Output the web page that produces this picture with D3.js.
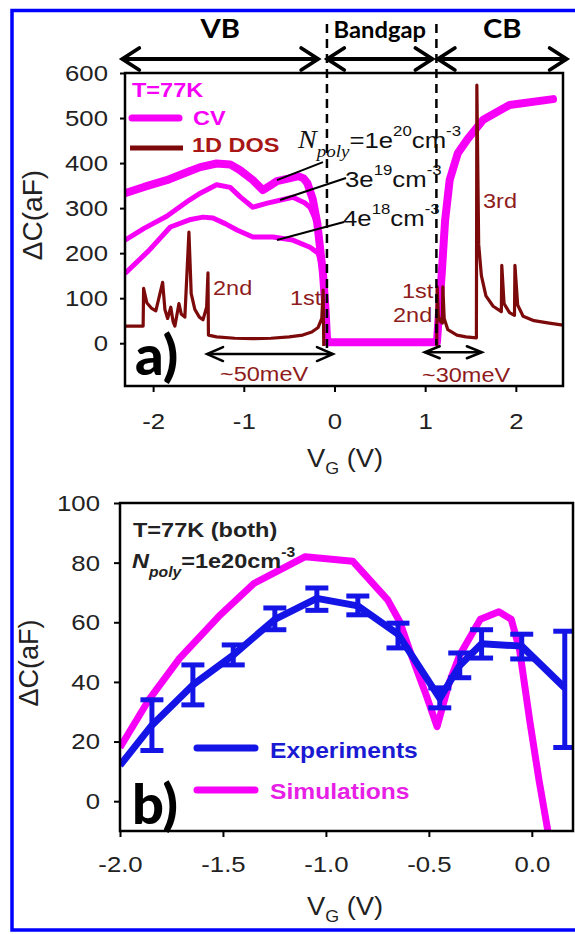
<!DOCTYPE html>
<html><head><meta charset="utf-8">
<script src="https://cdn.jsdelivr.net/npm/d3@7"></script>
<style>body{margin:0;background:#fff;} svg{display:block;}</style>
</head><body>
<svg id="c" width="575" height="934"></svg>
<script>
// ---------------- Panel (a) data ----------------
const cvHighV = [-2.31,-2.1,-1.85,-1.6,-1.48,-1.3,-1.15,-1.04,-0.9,-0.79,-0.71,-0.634,-0.5,-0.40,-0.34,-0.30,-0.24,-0.19,-0.127,-0.10,-0.083,-0.07,0.3,0.7,1.13,1.16,1.185,1.22,1.27,1.36,1.46,1.64,1.93,2.41];
const cvHighC = [333,347,362,382,391,399,397,384,362,340,350,360,366,371,366,356,320,267,155,80,13,2,2,2,2,89,162,273,362,422,451,496,529,542];
const cvMidV = [-2.31,-2.1,-1.85,-1.6,-1.48,-1.30,-1.15,-1.04,-0.90,-0.74,-0.46,-0.33,-0.27,-0.20,-0.16,-0.127,-0.10,-0.083,-0.07];
const cvMidC = [229,255,282,318,333,352,346,325,302,311,324,312,302,270,229,155,80,13,2];
const cvLowV = [-2.31,-2.05,-1.81,-1.6,-1.45,-1.34,-1.2,-1.07,-0.90,-0.68,-0.46,-0.27,-0.18,-0.14,-0.115,-0.095,-0.083,-0.07];
const cvLowC = [155,205,258,274,280,278,265,251,236,236,229,213,200,170,118,60,13,2];
const dosVbV = [-2.31,-2.11,-2.105,-2.07,-2.02,-1.97,-1.895,-1.87,-1.84,-1.805,-1.78,-1.76,-1.715,-1.69,-1.65,-1.605,-1.58,-1.54,-1.49,-1.45,-1.41,-1.395,-1.39,-1.3,-1.1,-0.9,-0.7,-0.5,-0.35,-0.25,-0.18,-0.14,-0.125,-0.118];
const dosVbC = [38,38,122,90,78,72,135,75,55,80,48,38,88,65,58,247,110,75,58,52,80,156,18,14,11,10,11,14,18,25,35,55,118,-6];
const dosCbV = [1.12,1.128,1.132,1.145,1.17,1.19,1.195,1.21,1.25,1.35,1.45,1.565,1.57,1.59,1.62,1.67,1.75,1.84,1.845,1.87,1.93,1.985,1.99,2.02,2.08,2.2,2.35,2.52];
const dosCbC = [-6,-6,125,60,48,45,125,55,30,18,14,12,573,220,150,105,82,70,173,88,68,62,173,85,60,50,45,40];
const xTicksA = [-2,-1,0,1,2];
const yTicksA = [0,100,200,300,400,500,600];
const bandEdges = [-0.083, 1.124];
const regionNames = ['VB','Bandgap','CB'];
const regionSpans = [[-2.34,-0.18],[-0.08,1.08],[1.14,2.56]];
const polyMant = ['1e','3e','4e'];
const polyExp = ['20','19','18'];

// ---------------- Panel (b) data ----------------
const expV  = [-2.0,-1.845,-1.646,-1.45,-1.248,-1.044,-0.845,-0.65,-0.447,-0.35,-0.244,-0.049,0.16];
const expC  = [12,25.5,39,49,61,68,65.5,56,34.5,45.5,52.8,52,38];
const expHi = [null,34,45.7,52.4,64.8,71.5,68.8,59.7,38,49.7,57.5,56,57];
const expLo = [null,17,32.3,45.7,57.5,64,62.5,51.4,31.3,41.4,48,47.7,18];
const simV = [-2.0,-1.86,-1.71,-1.52,-1.35,-1.1,-0.87,-0.70,-0.64,-0.58,-0.51,-0.46,-0.40,-0.35,-0.25,-0.16,-0.10,-0.06,-0.01,0.035,0.078];
const simC = [18,34,48,62,73,82,80.5,67.5,60,48,35,25,40,49,61,63.5,61,51,27,7,-10];
const xTicksB = [-2.0,-1.5,-1.0,-0.5,0.0];
const yTicksB = [0,20,40,60,80,100];

// ---------------- styles ----------------
const SANS = "'Liberation Sans', Arial, sans-serif";
const SERIF = "'Liberation Serif', 'Times New Roman', serif";
const CAL = "Lato, 'Open Sans', sans-serif";
const SX = 1.12;
const MAG = '#f700f7', DRED = '#7d0a0a', TRED = '#8e1c1c', BLUE = '#1414e6';

const svg = d3.select('#c');
const zip = (a,b) => a.map((v,i)=>[v,b[i]]);

function txt(g, x, y, s, o={}) {
  return g.append('text').attr('transform', `translate(${x},${y}) scale(${o.sx||SX},1)`)
    .attr('font-family', o.family||SANS).attr('font-size', o.size||21)
    .attr('font-weight', o.weight||'normal').attr('font-style', o.style||'normal')
    .attr('fill', o.fill||'#000').attr('text-anchor', o.anchor||'start').text(s);
}
function dArrow(g, x1, x2, y, h, w, sw) {
  const a = g.append('g').attr('stroke','#000').attr('stroke-width',sw).attr('fill','none')
    .attr('stroke-linecap','round').attr('stroke-linejoin','miter');
  a.append('line').attr('x1',x1+1).attr('x2',x2-1).attr('y1',y).attr('y2',y);
  a.append('path').attr('d',`M${x1+h},${y-w}L${x1},${y}L${x1+h},${y+w}`);
  a.append('path').attr('d',`M${x2-h},${y-w}L${x2},${y}L${x2-h},${y+w}`);
}

// blue border
svg.append('rect').attr('x',12).attr('y',10.5).attr('width',580).attr('height',919.5)
  .attr('fill','none').attr('stroke','#0000ff').attr('stroke-width',3.5);

// ================= Panel (a) =================
const xa = d3.scaleLinear().domain([-2.31,2.52]).range([125,563]);
const ya = d3.scaleLinear().domain([-95,600]).range([386,73]);
const gA = svg.append('g');
svg.append('clipPath').attr('id','clipA').append('rect')
  .attr('x',125).attr('y',73).attr('width',438).attr('height',313);

const lineA = d3.line().x(d=>xa(d[0])).y(d=>ya(d[1]));
const plotA = gA.append('g').attr('clip-path','url(#clipA)');
plotA.append('path').attr('d', lineA(zip(cvLowV,cvLowC))).attr('fill','none')
  .attr('stroke',MAG).attr('stroke-width',5).attr('stroke-linejoin','round');
plotA.append('path').attr('d', lineA(zip(cvMidV,cvMidC))).attr('fill','none')
  .attr('stroke',MAG).attr('stroke-width',5).attr('stroke-linejoin','round');
plotA.append('path').attr('d', lineA(zip(cvHighV,cvHighC))).attr('fill','none')
  .attr('stroke',MAG).attr('stroke-width',8).attr('stroke-linejoin','round').attr('stroke-linecap','round');
plotA.append('path').attr('d', lineA(zip(dosVbV,dosVbC))).attr('fill','none')
  .attr('stroke',DRED).attr('stroke-width',3.2).attr('stroke-linejoin','round');
plotA.append('path').attr('d', lineA(zip(dosCbV,dosCbC))).attr('fill','none')
  .attr('stroke',DRED).attr('stroke-width',3.2).attr('stroke-linejoin','round');

// frame
gA.append('rect').attr('x',125).attr('y',73).attr('width',438).attr('height',313)
  .attr('fill','none').attr('stroke','#000').attr('stroke-width',2.5);

// dashed band edges
bandEdges.forEach((v,i)=>{
  gA.append('line').attr('x1',xa(v)).attr('x2',xa(v)).attr('y1',ya(709)).attr('y2',ya(i===0?-27:-4))
    .attr('stroke','#000').attr('stroke-width',2.5).attr('stroke-dasharray','9,6');
});

// region arrows and labels
regionSpans.forEach((s,i)=>{
  dArrow(gA, xa(s[0]), xa(s[1]), 59, 17, 11, 3.8);
  txt(gA, (xa(s[0])+xa(s[1]))/2, 38, regionNames[i], {family:CAL, weight:700, size: i===1?22:27, anchor:'middle', sx:1.08});
});

// axes
const gxA = gA.append('g').attr('transform','translate(0,386)')
  .call(d3.axisBottom(xa).tickValues(xTicksA).tickSize(6).tickPadding(21).tickFormat(d=>String(d)));
gxA.select('.domain').remove();
gxA.selectAll('line').attr('stroke','#000').attr('stroke-width',2);
gxA.selectAll('text').attr('font-size',23).attr('font-family',SANS).attr('fill','#222').attr('transform',`scale(${SX},1)`);
const gyA = gA.append('g').attr('transform','translate(125,0)')
  .call(d3.axisLeft(ya).tickValues(yTicksA).tickSize(5).tickPadding(12).tickFormat(d=>String(d)));
gyA.select('.domain').remove();
gyA.selectAll('line').attr('stroke','#000').attr('stroke-width',2);
gyA.selectAll('text').attr('font-size',23).attr('font-family',SANS).attr('fill','#222')
  .attr('x',-17/SX).attr('transform',`scale(${SX},1)`);

// axis titles (a)
gA.append('text').attr('transform','translate(42,215) rotate(-90)').attr('text-anchor','middle')
  .attr('font-family',SANS).attr('font-size',28).attr('fill','#222').text('ΔC(aF)');
const vgA = txt(gA, 345, 467, '', {size:26, anchor:'middle', fill:'#222', sx:1.05});
vgA.append('tspan').text('V');
vgA.append('tspan').attr('font-size',17).attr('dy',7).text('G');
vgA.append('tspan').attr('dy',-7).text(' (V)');

// legend (a)
txt(gA, 132, 97, 'T=77K', {weight:'bold', size:21, fill:MAG});
gA.append('line').attr('x1',132).attr('x2',179).attr('y1',118).attr('y2',118)
  .attr('stroke',MAG).attr('stroke-width',7).attr('stroke-linecap','round');
txt(gA, 193, 125, 'CV', {weight:'bold', size:21, fill:MAG});
gA.append('line').attr('x1',130).attr('x2',183).attr('y1',148).attr('y2',148)
  .attr('stroke',DRED).attr('stroke-width',5);
txt(gA, 192, 152, '1D DOS', {weight:'bold', size:21, fill:'#a81616'});

// N_poly labels with leader lines
const leaders = [[[-0.634,362],[-0.127,402]],[[-0.60,318],[0.127,367]],[[-0.634,229],[0.105,269]]];
leaders.forEach(l=>{
  gA.append('line').attr('x1',xa(l[0][0])).attr('y1',ya(l[0][1])).attr('x2',xa(l[1][0])).attr('y2',ya(l[1][1]))
    .attr('stroke','#000').attr('stroke-width',2);
});
const np = txt(gA, 298, 148, '', {size:23, fill:'#111'});
np.append('tspan').attr('font-family',SERIF).attr('font-style','italic').attr('font-size',25).text('N');
np.append('tspan').attr('font-family',SERIF).attr('font-style','italic').attr('font-size',17).attr('dy',9).text('poly');
np.append('tspan').attr('dy',-9).text('=' + polyMant[0]);
np.append('tspan').attr('font-size',15).attr('dy',-12).text(polyExp[0]);
np.append('tspan').attr('dy',12).text('cm');
np.append('tspan').attr('font-size',15).attr('dy',-12).text('-3');
[[345,187],[343,226]].forEach((p,k)=>{
  const t = txt(gA, p[0], p[1], '', {size:23, fill:'#111'});
  t.append('tspan').text(polyMant[k+1]);
  t.append('tspan').attr('font-size',15).attr('dy',-12).text(polyExp[k+1]);
  t.append('tspan').attr('dy',12).text('cm');
  t.append('tspan').attr('font-size',15).attr('dy',-12).text('-3');
});

// subband labels
txt(gA, 213, 295, '2nd', {fill:TRED});
txt(gA, 290, 305, '1st', {fill:TRED});
txt(gA, 402, 298, '1st', {fill:TRED});
txt(gA, 393, 322, '2nd', {fill:TRED});
txt(gA, 483, 208, '3rd', {fill:TRED});
// meV arrows
dArrow(gA, xa(-1.405), xa(-0.017), ya(-24), 16, 7, 2.5);
txt(gA, 220, 381, '~50meV', {fill:TRED});
dArrow(gA, xa(0.995), xa(1.625), ya(-20), 15, 6, 2.5);
txt(gA, 422, 382, '~30meV', {fill:TRED});
gA.append('text').attr('x',135).attr('y',375).attr('font-family',CAL).attr('font-weight',900)
  .attr('font-size',56).attr('fill','#000').text('a)');

// ================= Panel (b) =================
const xb = d3.scaleLinear().domain([-2.0,0.2]).range([120,573]);
const yb = d3.scaleLinear().domain([-10,100]).range([831,503]);
const gB = svg.append('g');
svg.append('clipPath').attr('id','clipB').append('rect')
  .attr('x',120).attr('y',503).attr('width',453).attr('height',328);
const lineB = d3.line().x(d=>xb(d[0])).y(d=>yb(d[1]));
const plotB = gB.append('g').attr('clip-path','url(#clipB)');
plotB.append('path').attr('d', lineB(zip(simV,simC))).attr('fill','none')
  .attr('stroke',MAG).attr('stroke-width',7).attr('stroke-linejoin','round');
plotB.append('path').attr('d', lineB(zip(expV,expC))).attr('fill','none')
  .attr('stroke',BLUE).attr('stroke-width',7).attr('stroke-linejoin','round');
const eb = plotB.append('g').attr('stroke',BLUE).attr('stroke-width',5);
expV.forEach((v,i)=>{
  if (expHi[i]==null) return;
  const x = xb(v);
  eb.append('line').attr('x1',x).attr('x2',x).attr('y1',yb(expHi[i])).attr('y2',yb(expLo[i]));
  eb.append('line').attr('x1',x-11.5).attr('x2',x+11.5).attr('y1',yb(expHi[i])).attr('y2',yb(expHi[i]));
  eb.append('line').attr('x1',x-11.5).attr('x2',x+11.5).attr('y1',yb(expLo[i])).attr('y2',yb(expLo[i]));
});
gB.append('rect').attr('x',120).attr('y',503).attr('width',453).attr('height',328)
  .attr('fill','none').attr('stroke','#000').attr('stroke-width',2.5);

const gxB = gB.append('g').attr('transform','translate(0,831)')
  .call(d3.axisBottom(xb).tickValues(xTicksB).tickSize(6).tickPadding(19).tickFormat(d=>d.toFixed(1)));
gxB.select('.domain').remove();
gxB.selectAll('line').attr('stroke','#000').attr('stroke-width',2);
gxB.selectAll('text').attr('font-size',23).attr('font-family',SANS).attr('fill','#222').attr('transform',`scale(${SX},1)`);
const gyB = gB.append('g').attr('transform','translate(120,0)')
  .call(d3.axisLeft(yb).tickValues(yTicksB).tickSize(6).tickPadding(14).tickFormat(d=>String(d)));
gyB.select('.domain').remove();
gyB.selectAll('line').attr('stroke','#000').attr('stroke-width',2);
gyB.selectAll('text').attr('font-size',23).attr('font-family',SANS).attr('fill','#222')
  .attr('x',-20/SX).attr('transform',`scale(${SX},1)`);

gB.append('text').attr('transform','translate(38,663) rotate(-90)').attr('text-anchor','middle')
  .attr('font-family',SANS).attr('font-size',27).attr('fill','#222').text('ΔC(aF)');
const vgB = txt(gB, 345, 915, '', {size:26, anchor:'middle', fill:'#222', sx:1.05});
vgB.append('tspan').text('V');
vgB.append('tspan').attr('font-size',17).attr('dy',7).text('G');
vgB.append('tspan').attr('dy',-7).text(' (V)');

txt(gB, 133, 537, 'T=77K (both)', {weight:'bold', size:21, fill:'#222'});
const npb = txt(gB, 132, 568, '', {weight:'bold', size:21, fill:'#222'});
npb.append('tspan').attr('font-style','italic').text('N');
npb.append('tspan').attr('font-style','italic').attr('font-size',14).attr('dy',9).text('poly');
npb.append('tspan').attr('dy',-9).text('=1e20cm');
npb.append('tspan').attr('font-size',14).attr('dy',-11).text('-3');

gB.append('line').attr('x1',197).attr('x2',255).attr('y1',748).attr('y2',748)
  .attr('stroke',BLUE).attr('stroke-width',7).attr('stroke-linecap','round');
txt(gB, 270, 758, 'Experiments', {weight:'bold', size:22, fill:'#1a1ad2'});
gB.append('line').attr('x1',197).attr('x2',255).attr('y1',790).attr('y2',790)
  .attr('stroke',MAG).attr('stroke-width',7).attr('stroke-linecap','round');
txt(gB, 270, 799, 'Simulations', {weight:'bold', size:22, fill:'#e61ee6'});
gB.append('text').attr('x',132).attr('y',824).attr('font-family',CAL).attr('font-weight',900)
  .attr('font-size',56).attr('fill','#000').text('b)');
</script>
</body></html>
